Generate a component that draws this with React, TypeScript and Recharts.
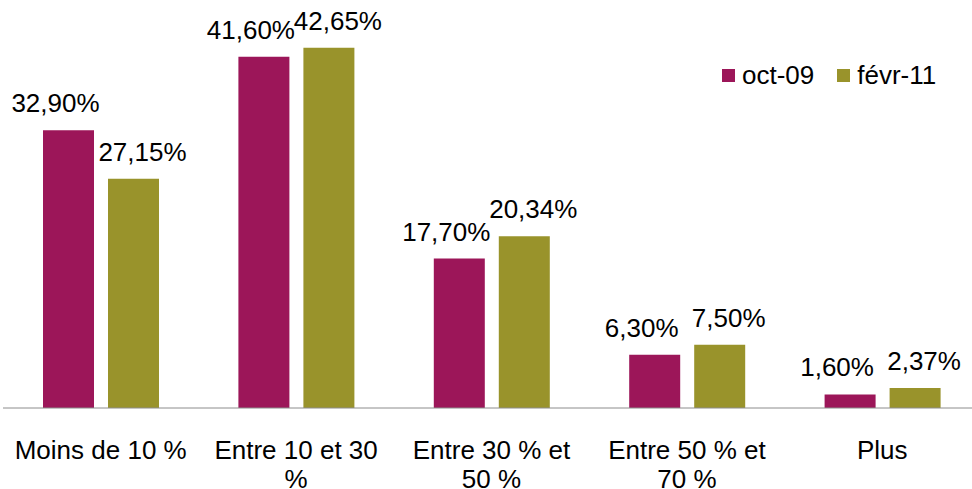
import { BarChart, Bar, XAxis, YAxis, Legend, LabelList } from "recharts";

// tranches de rendement
const categories = ["Moins de 10 %", "Entre 10 et 30 %", "Entre 30 % et 50 %", "Entre 50 % et 70 %", "Plus"];
const tickLines = [["Moins de 10 %"], ["Entre 10 et 30", "%"], ["Entre 30 % et", "50 %"], ["Entre 50 % et", "70 %"], ["Plus"]];
const oct09 = [32.9, 41.6, 17.7, 6.3, 1.6];
const fevr11 = [27.15, 42.65, 20.34, 7.5, 2.37];

const series = [
  { key: "oct09", name: "oct-09", color: "#9c1659", dx: -13 },
  { key: "fevr11", name: "févr-11", color: "#99932b", dx: 9 },
];

const data = categories.map((cat, i) => ({ cat, idx: i, oct09: oct09[i], fevr11: fevr11[i] }));

const FONT = "'Liberation Sans', Arial, sans-serif";

const fmt = (v: number) => v.toFixed(2).replace(".", ",") + "%";

function makeLabel(dx: number) {
  return (props: any) => {
    const { x, y, width, value } = props;
    return (
      <text x={x + width / 2 + dx} y={y - 18} textAnchor="middle" fontSize={26} fill="#000" fontFamily={FONT}>
        {fmt(value)}
      </text>
    );
  };
}

function CatTick(props: any) {
  const { x, y, index } = props;
  const lines = tickLines[index] || [];
  return (
    <g>
      {lines.map((l, i) => (
        <text key={i} x={x} y={y + 51 + i * 29} textAnchor="middle" fontSize={26} fill="#000" fontFamily={FONT}>
          {l}
        </text>
      ))}
    </g>
  );
}

function LegendBox() {
  return (
    <div style={{ display: "flex", alignItems: "center", fontFamily: FONT, fontSize: 26, lineHeight: "26px", color: "#000" }}>
      {series.map((s, i) => (
        <div key={s.key} style={{ display: "flex", alignItems: "center", marginRight: i === 0 ? 23 : 0 }}>
          <span style={{ width: 13, height: 13, background: s.color, display: "inline-block", marginRight: 7 }} />
          <span>{s.name}</span>
        </div>
      ))}
    </div>
  );
}

export default function App() {
  return (
    <div style={{ position: "absolute", left: 0, top: 0, width: 972, height: 489, overflow: "hidden", background: "#fff" }}>
      <BarChart
        width={981}
        height={489}
        data={data}
        margin={{ top: 28, right: 1, left: 3, bottom: 0 }}
        barSize={51}
        barGap={14}
      >
        <XAxis
          dataKey="cat"
          height={81}
          tickLine={false}
          tickSize={0}
          tickMargin={0}
          interval={0}
          stroke="#8c8c8c"
          tick={<CatTick />}
        />
        <YAxis hide domain={[0, 45]} />
        <Legend
          layout="vertical"
          align="center"
          verticalAlign="middle"
          wrapperStyle={{ left: 722, top: 62, width: 240 }}
          content={() => <LegendBox />}
        />
        {series.map((s) => (
          <Bar key={s.key} dataKey={s.key} name={s.name} fill={s.color} isAnimationActive={false}>
            <LabelList dataKey={s.key} content={makeLabel(s.dx)} />
          </Bar>
        ))}
      </BarChart>
    </div>
  );
}
